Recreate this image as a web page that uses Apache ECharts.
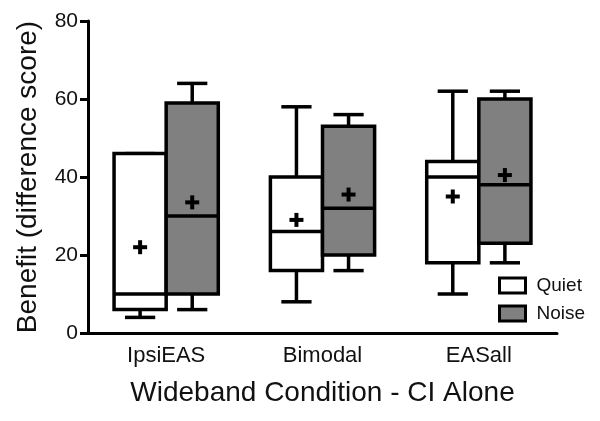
<!DOCTYPE html>
<html>
<head>
<meta charset="utf-8">
<script src="https://cdn.jsdelivr.net/npm/echarts@6/dist/echarts.min.js"></script>
<style>html,body{margin:0;padding:0;background:#fff}#c{width:600px;height:421px}</style>
</head>
<body>
<div id="c"></div>
<script>
// categories and tick labels
const categories = ['IpsiEAS', 'Bimodal', 'EASall'];
const yTicks = [0, 20, 40, 60, 80];
// box stats: [min, Q1, median, Q3, max]
const quietStats = [[4, 6, 10, 46, 46], [8, 16, 26, 40, 58], [10, 18, 40, 44, 62]];
const quietMeans = [22, 29, 35];
const noiseStats = [[6, 10, 30, 59, 64], [16, 20, 32, 53, 56], [18, 23, 38, 60, 62]];
const noiseMeans = [33.5, 35.5, 40.5];

const FONT = '"Liberation Sans", Arial, sans-serif';
const TXT = '#111';

function buildData(stats, means) {
  return stats.map((s, i) => [i, s[0], s[1], s[2], s[3], s[4], means[i]]);
}

function makeRender(side, fill) {
  return function (params, api) {
    const cat = api.value(0);
    const vmin = api.value(1), q1 = api.value(2), med = api.value(3),
          q3 = api.value(4), vmax = api.value(5), mean = api.value(6);
    const center = api.coord([cat, 0])[0];
    const band = api.size([1, 0])[0];
    const w = band / 3;
    const x0 = side < 0 ? center - w : center;
    const xc = x0 + w / 2;
    const Y = v => api.coord([cat, v])[1];
    const cap = w * 0.58;
    const lw = 3.5;
    const ls = { stroke: '#000', lineWidth: lw, fill: null };
    const pm = 7;
    return {
      type: 'group',
      children: [
        { type: 'line', shape: { x1: xc, y1: Y(q3), x2: xc, y2: Y(vmax) }, style: ls },
        { type: 'line', shape: { x1: xc - cap / 2, y1: Y(vmax), x2: xc + cap / 2, y2: Y(vmax) }, style: ls },
        { type: 'line', shape: { x1: xc, y1: Y(q1), x2: xc, y2: Y(vmin) }, style: ls },
        { type: 'line', shape: { x1: xc - cap / 2, y1: Y(vmin), x2: xc + cap / 2, y2: Y(vmin) }, style: ls },
        { type: 'rect', shape: { x: x0, y: Y(q3), width: w, height: Y(q1) - Y(q3) },
          style: { fill: fill, stroke: '#000', lineWidth: lw } },
        { type: 'line', shape: { x1: x0, y1: Y(med), x2: x0 + w, y2: Y(med) }, style: ls },
        { type: 'line', shape: { x1: xc - pm, y1: Y(mean), x2: xc + pm, y2: Y(mean) }, style: { stroke: '#000', lineWidth: 4 } },
        { type: 'line', shape: { x1: xc, y1: Y(mean) - pm, x2: xc, y2: Y(mean) + pm }, style: { stroke: '#000', lineWidth: 4 } }
      ]
    };
  };
}

const chart = echarts.init(document.getElementById('c'), null, { renderer: 'canvas' });
chart.setOption({
  animation: false,
  backgroundColor: '#fff',
  grid: { left: 88, right: 43, top: 21, bottom: 88, containLabel: false },
  legend: {
    orient: 'vertical',
    left: 493, top: 271,
    itemWidth: 26, itemHeight: 15, itemGap: 9,
    icon: 'rect',
    itemStyle: { borderColor: '#000', borderWidth: 3 },
    textStyle: { fontFamily: FONT, fontSize: 19, color: TXT, padding: [0, 0, 0, 6] },
    data: ['Quiet', 'Noise']
  },
  xAxis: {
    type: 'category',
    data: categories,
    boundaryGap: true,
    name: 'Wideband Condition - CI Alone',
    nameLocation: 'middle',
    nameGap: 46,
    nameTextStyle: { fontFamily: FONT, fontSize: 28, color: TXT },
    axisLine: { lineStyle: { color: '#000', width: 3 } },
    axisTick: { alignWithLabel: true, length: 9, lineStyle: { color: '#000', width: 3 } },
    axisLabel: { fontFamily: FONT, fontSize: 22, color: TXT, margin: 12 },
    splitLine: { show: false }
  },
  yAxis: {
    type: 'value',
    min: yTicks[0], max: yTicks[yTicks.length - 1], interval: 20,
    name: 'Benefit (difference score)',
    nameLocation: 'middle',
    nameGap: 46,
    nameTextStyle: { fontFamily: FONT, fontSize: 28, color: TXT },
    axisLine: { show: true, lineStyle: { color: '#000', width: 3 } },
    axisTick: { show: true, length: 8, lineStyle: { color: '#000', width: 3 } },
    axisLabel: { fontFamily: FONT, fontSize: 21, color: TXT, margin: 10 },
    splitLine: { show: false }
  },
  series: [
    {
      name: 'Quiet', type: 'custom',
      itemStyle: { color: '#ffffff', borderColor: '#000', borderWidth: 3 },
      renderItem: makeRender(-1, '#ffffff'),
      encode: { x: 0, y: [1, 2, 3, 4, 5] },
      data: buildData(quietStats, quietMeans)
    },
    {
      name: 'Noise', type: 'custom',
      itemStyle: { color: '#808080', borderColor: '#000', borderWidth: 3 },
      renderItem: makeRender(1, '#808080'),
      encode: { x: 0, y: [1, 2, 3, 4, 5] },
      data: buildData(noiseStats, noiseMeans)
    }
  ]
});
</script>
</body>
</html>
